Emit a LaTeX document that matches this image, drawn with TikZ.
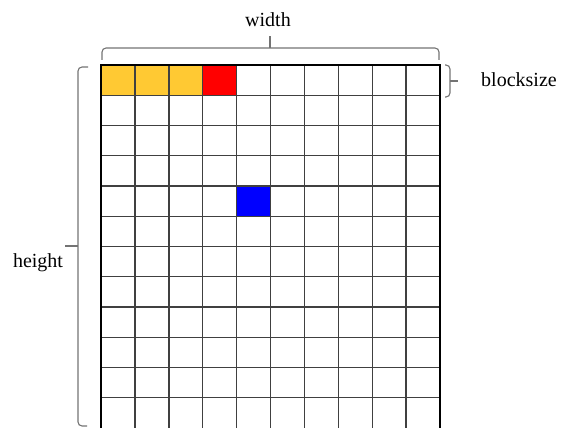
\documentclass[tikz,border=0pt]{standalone}
\usepackage{fontspec}
\setmainfont{Liberation Serif}
\usetikzlibrary{calc}

\definecolor{blockyellow}{HTML}{FFC933}
\definecolor{blockred}{HTML}{FF0000}
\definecolor{blockblue}{HTML}{0000FF}

\begin{document}
\begin{tikzpicture}[
    x=1pt, y=-1pt,
    label_style/.style={font=\fontsize{20}{24}\selectfont, inner sep=0pt},
    cellline/.style={draw=black!75, line width=1.4pt},
    border/.style={draw=black, line width=1.8pt},
    bracket/.style={draw=black!55, line width=1.1pt, rounded corners=4pt}
]
    \useasboundingbox (0,0) rectangle (562,428);
    \def\cw{33.9}
    \def\ch{30.25}

    % --- GRID CORNERS ---
    \coordinate (grid_nw) at (101,65);
    \coordinate (grid_ne) at (440,65);
    \coordinate (grid_sw) at (101,428);

    % --- COLOURED BLOCKS ---
    \foreach \c in {0,1,2}
        \fill[blockyellow] ($(grid_nw)+(\c*\cw,0)$) rectangle ++(\cw,\ch);
    \fill[blockred] ($(grid_nw)+(3*\cw,0)$) rectangle ++(\cw,\ch);
    \fill[blockblue] ($(grid_nw)+(4*\cw,4*\ch)$) rectangle ++(\cw,\ch);

    % --- GRID LINES ---
    \foreach \c in {1,...,9}
        \draw[cellline] ($(grid_nw)+(\c*\cw,0)$) -- ++(0,12*\ch);
    \foreach \r in {1,...,11}
        \draw[cellline] ($(grid_nw)+(0,\r*\ch)$) -- ++(10*\cw,0);
    \draw[border] (grid_sw) -- (grid_nw) -- (grid_ne) -- ++(0,12*\ch);

    % --- LABELS ---
    \node (width_label) [label_style] at (268,20) {width};
    \node (height_label) [label_style] at (38,263) {height};
    \node (blocksize_label) [label_style] at (519,80) {blocksize};

    % --- BRACES ---
    \coordinate (width_tip) at (270,48);
    \coordinate (height_tip) at (78,246);
    \coordinate (block_tip) at (450,81);

    \draw[bracket] ($(grid_nw)+(1,-5)$) -- ($(grid_nw)+(1,-17)$) -- ($(grid_ne)+(-1,-17)$) -- ($(grid_ne)+(-1,-5)$);
    \draw[bracket] (width_tip) -- ++(0,-12);

    \draw[bracket] ($(grid_nw)+(-13,2)$) -- ($(grid_nw)+(-23,2)$) -- ($(grid_sw)+(-23,-2)$) -- ($(grid_sw)+(-14,-2)$);
    \draw[bracket] (height_tip) -- ++(-13,0);

    \draw[bracket] ($(grid_ne)+(5,0)$) -- ($(grid_ne)+(10,0)$) -- ($(grid_ne)+(10,32)$) -- ($(grid_ne)+(5,32)$);
    \draw[bracket] (block_tip) -- ++(8,0);

\end{tikzpicture}
\end{document}
